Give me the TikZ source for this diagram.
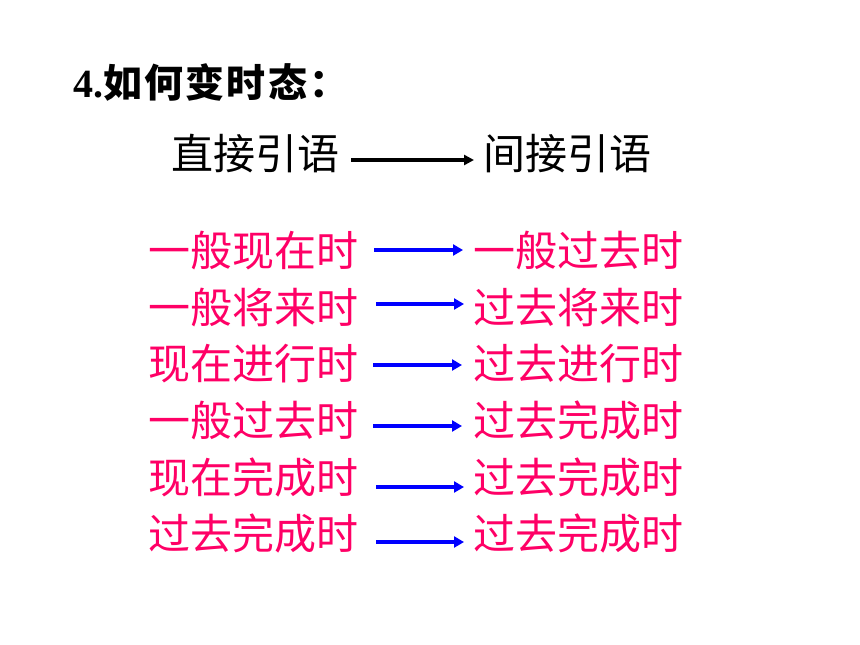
\documentclass[tikz,border=0pt]{standalone}
\usepackage{fontspec}
\setmainfont{Liberation Serif}
\newfontfamily\cjk{Noto Sans CJK SC}
\usetikzlibrary{arrows.meta}
\definecolor{pinktext}{HTML}{FF0066}
\definecolor{bluearrow}{HTML}{0000FF}
\tikzset{
  txt/.style={inner sep=0pt, outer sep=0pt, anchor=base west},
  pinkrow/.style={txt, text=pinktext, font=\cjk\fontsize{42}{42}\selectfont},
  blackrow/.style={txt, text=black, font=\cjk\fontsize{42}{42}\selectfont},
  titlerow/.style={txt, text=black, font=\fontsize{40}{40}\selectfont\bfseries},
  bluearr/.style={draw=bluearrow, line width=3.6pt, -{Triangle[length=10pt,width=11pt]}},
  blackarr/.style={draw=black, line width=3.2pt, -{Triangle[length=10pt,width=10pt]}}
}
\begin{document}
\begin{tikzpicture}[x=1pt,y=-1pt]
\useasboundingbox (0,0) rectangle (860,645);
\fill[white] (0,0) rectangle (860,645);
\node[titlerow] (title) at (73,97) {4.{\cjk\fontsize{39}{39}\selectfont\addfontfeature{LetterSpace=6} 如何变时态：}};
\node[blackrow] (direct) at (171,169) {直接引语};
\node[blackrow] (indirect) at (483,169) {间接引语};
\coordinate (k1) at (351,160);
\coordinate (k2) at (474,160);
\draw[blackarr] (k1) -- (k2);

\node[pinkrow] (l1) at (148,266) {一般现在时};
\node[pinkrow] (r1) at (473,266) {一般过去时};
\node[pinkrow] (l2) at (148,323) {一般将来时};
\node[pinkrow] (r2) at (473,323) {过去将来时};
\node[pinkrow] (l3) at (148,379) {现在进行时};
\node[pinkrow] (r3) at (473,379) {过去进行时};
\node[pinkrow] (l4) at (148,436) {一般过去时};
\node[pinkrow] (r4) at (473,436) {过去完成时};
\node[pinkrow] (l5) at (148,493) {现在完成时};
\node[pinkrow] (r5) at (473,493) {过去完成时};
\node[pinkrow] (l6) at (148,549) {过去完成时};
\node[pinkrow] (r6) at (473,549) {过去完成时};

\coordinate (a1s) at (374,250); \coordinate (a1e) at (463,250);
\coordinate (a2s) at (376,304); \coordinate (a2e) at (464,304);
\coordinate (a3s) at (373,365); \coordinate (a3e) at (462,365);
\coordinate (a4s) at (373,426); \coordinate (a4e) at (462,426);
\coordinate (a5s) at (376,487); \coordinate (a5e) at (464,487);
\coordinate (a6s) at (376,542); \coordinate (a6e) at (464,542);
\foreach \i in {1,...,6} {\draw[bluearr] (a\i s) -- (a\i e);}
\end{tikzpicture}
\end{document}
